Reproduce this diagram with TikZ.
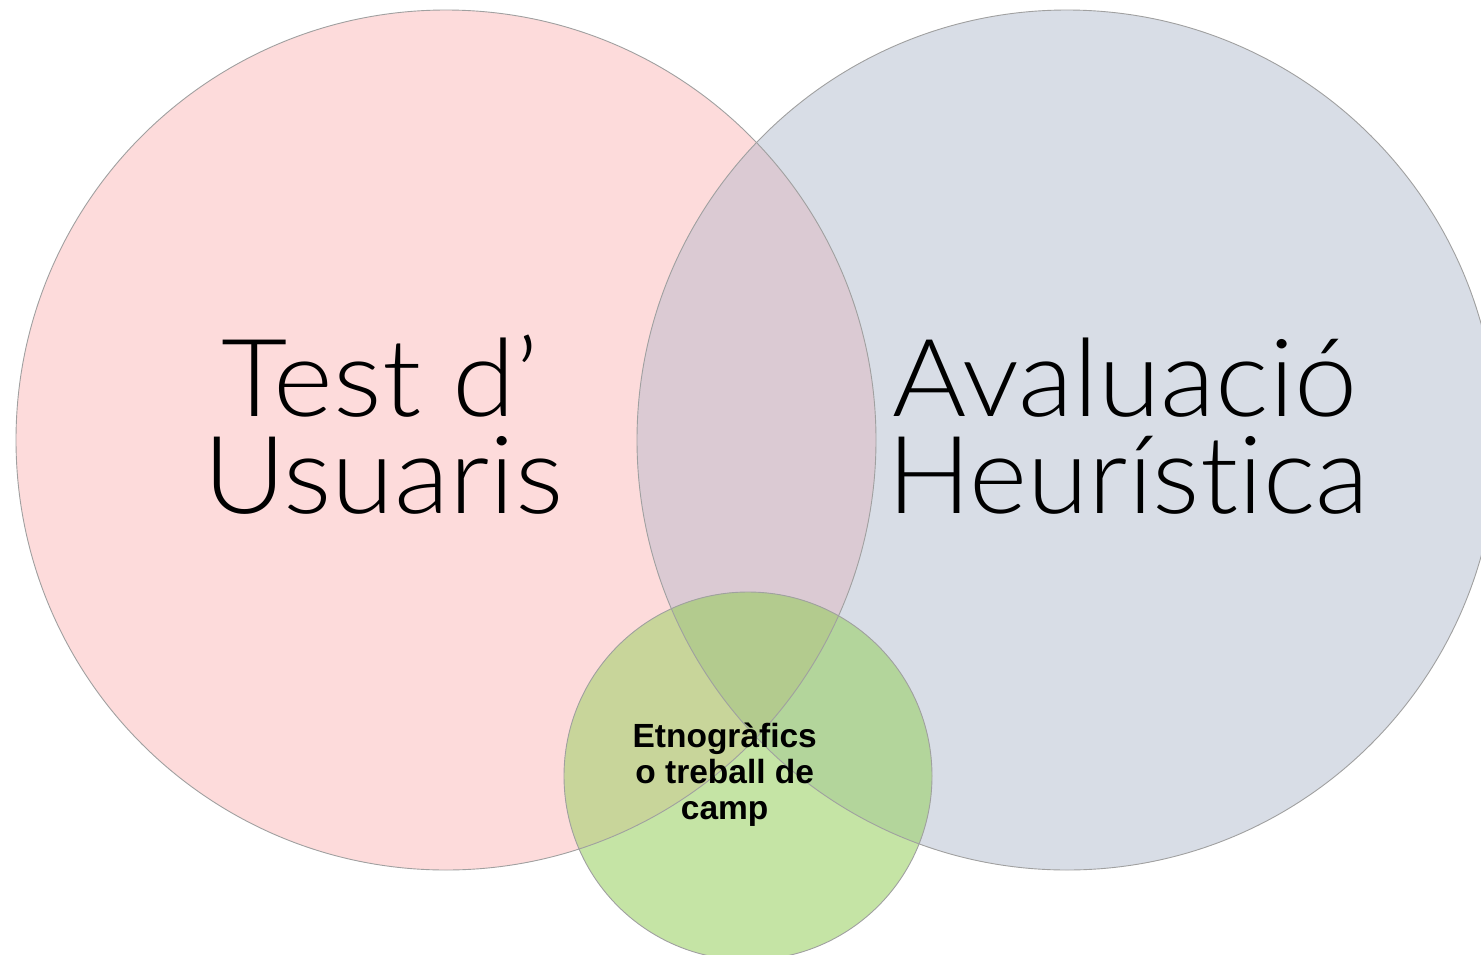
\documentclass[tikz,border=0pt]{standalone}
\usepackage{fontspec}
\usepackage{graphicx}
\IfFontExistsTF{Lato Light}{\newfontfamily\thinfont{Lato Light}[Ligatures={NoCommon,NoContextual}]}{\newfontfamily\thinfont{Liberation Sans}}
\newfontfamily\boldfont{Liberation Sans Bold}
\newcommand{\widen}[2]{\scalebox{#1}[1]{#2}}
\definecolor{pinkc}{HTML}{FDDBDB}
\definecolor{bluec}{HTML}{D8DDE6}
\definecolor{pbc}{HTML}{DBCAD3}
\definecolor{greenc}{HTML}{C5E4A5}
\definecolor{gpc}{HTML}{C8D59A}
\definecolor{gbc}{HTML}{B3D59B}
\definecolor{gpbc}{HTML}{B3CB8E}
\definecolor{edgec}{HTML}{A0A0A0}
\tikzset{
  rim/.style={draw=edgec, line width=0.9pt},
  bigtext/.style={font=\thinfont\fontsize{108}{97}\selectfont, inner sep=0pt, anchor=base, align=center},
  smalltext/.style={font=\boldfont\fontsize{33.5}{36}\selectfont, inner sep=0pt, anchor=base, align=center},
}
\begin{document}
\begin{tikzpicture}[x=1pt,y=-1pt]
\useasboundingbox (0,0) rectangle (1481,954);
\begin{scope}
\clip (0,0) rectangle (1481,954);
\fill[pinkc] (446,440) circle (430pt);
\fill[bluec] (1067,440) circle (430pt);
\begin{scope}
\clip (446,440) circle (430pt);
\fill[pbc] (1067,440) circle (430pt);
\end{scope}
\fill[greenc] (748,776) circle (184pt);
\begin{scope}
\clip (748,776) circle (184pt);
\fill[gpc] (446,440) circle (430pt);
\fill[gbc] (1067,440) circle (430pt);
\clip (446,440) circle (430pt);
\fill[gpbc] (1067,440) circle (430pt);
\end{scope}
\draw[rim] (446,440) circle (430pt);
\draw[rim] (1067,440) circle (430pt);
\draw[rim] (748,776) circle (184pt);
\end{scope}
\node[bigtext] (tu) at (383.25,513) {\widen{1.06}{Test d’}\hspace*{5.5pt}\\\widen{1.055}{Usuaris}};
\node[bigtext] (ah) at (1128,513) {\widen{1.05}{Avaluació}\hspace*{6pt}\\\widen{1.03}{Heurística}};
\node[smalltext] (et) at (724.7,819) {Etnogràfics\\o treball de\\camp};
\end{tikzpicture}
\end{document}
